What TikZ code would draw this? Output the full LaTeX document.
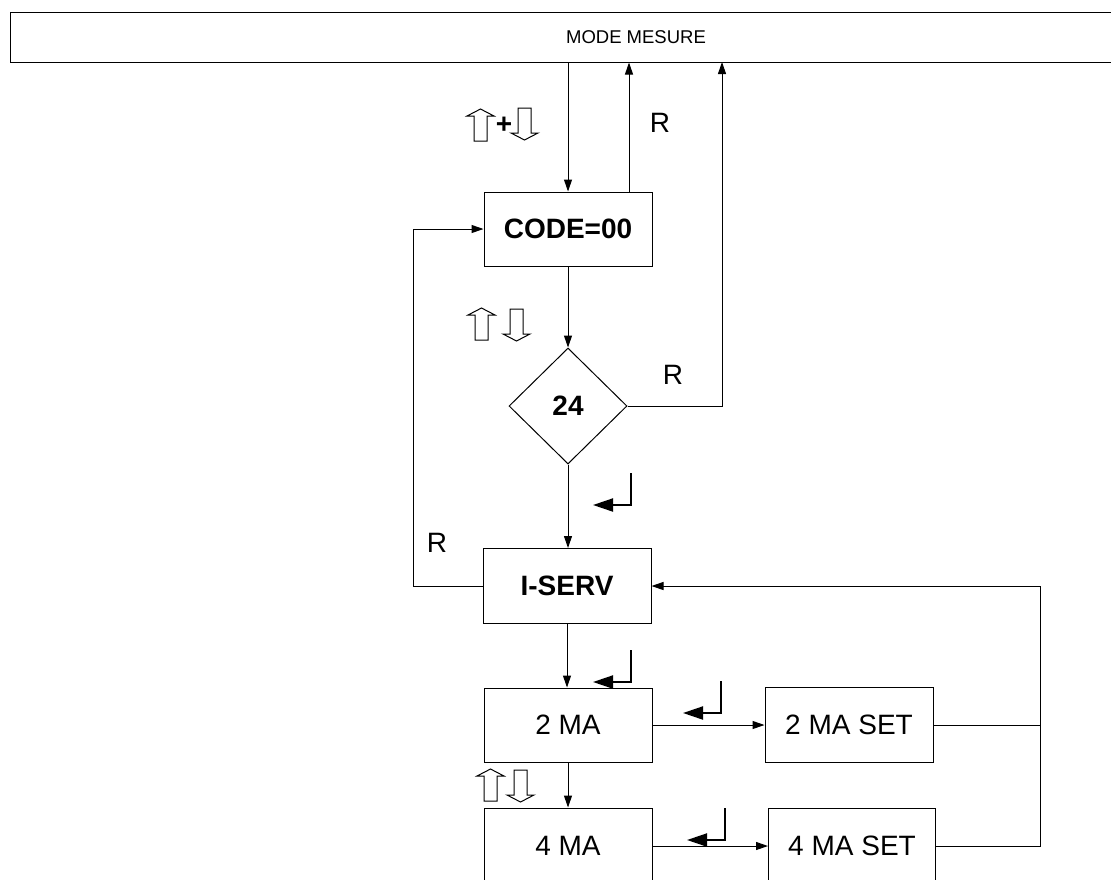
\documentclass[tikz,border=0pt]{standalone}
\usepackage{fontspec}
\setmainfont{Liberation Sans}
\usetikzlibrary{arrows.meta, shapes.geometric, calc}
\tikzset{
  every picture/.style={line width=1pt},
  box/.style={draw, minimum width=168pt, minimum height=74pt, inner sep=0pt, font=\fontsize{28}{32}\selectfont},
  boldbox/.style={box, font=\fontsize{28}{32}\selectfont\bfseries},
  decision/.style={draw, diamond, aspect=1, minimum width=118pt, minimum height=116pt, inner sep=0pt, font=\fontsize{28}{32}\selectfont\bfseries},
  rlabel/.style={inner sep=0pt, font=\fontsize{28}{32}\selectfont},
  arrow/.style={-{Triangle[length=12pt, width=8pt]}},
  upkey/.pic={\draw (7,32) -- (20,32) -- (20,7) -- (27,7) -- (13.5,0) -- (0,7) -- (7,7) -- cycle;},
  downkey/.pic={\draw (7,0) -- (20,0) -- (20,25) -- (27,25) -- (13.5,32) -- (0,25) -- (7,25) -- cycle;},
  enterkey/.pic={\draw[line width=2pt, -{Triangle[length=20pt, width=13pt]}] (0,0) -- (0,32) -- (-38,32);},
}

\begin{document}
\begin{tikzpicture}[x=1pt, y=-1pt]
  \path[use as bounding box, clip] (0,0) rectangle (1111,879);
  \node[draw, minimum width=1252pt, minimum height=50pt, inner sep=0pt, font=\fontsize{18.5}{22}\selectfont] (mesure) at (636,37) {MODE MESURE};
  \node[boldbox] (code) at (568,229) {CODE=00};
  \node[decision] (test) at (568,406) {24};
  \node[boldbox, minimum height=75pt] (iserv) at (567,586) {I-SERV};
  \node[box] (ma2) at (568,725) {2 MA};
  \node[box, minimum height=75pt] (ma2set) at (849,725) {2 MA SET};
  \node[box, minimum height=76pt] (ma4) at (568,846) {4 MA};
  \node[box, minimum width=167pt, minimum height=76pt] (ma4set) at (852,846) {4 MA SET};

  \coordinate (back) at (722,62);
  \coordinate (lft) at (413,586);
  \coordinate (bus) at (1040,586);

  \draw[arrow] (mesure.south -| code.north) -- (code.north);
  \draw[arrow] ([xshift=61pt]code.north) -- ([xshift=61pt]code.north |- mesure.south);
  \draw[arrow] (code.south) -- (test.north);
  \draw[arrow] (test.east) -| (back);
  \draw[arrow] (test.south) -- (test.south |- iserv.north);
  \draw[arrow] (iserv.west) -- (lft) |- (code.west);
  \draw[arrow] (iserv.south) -- (iserv.south |- ma2.north);
  \draw[arrow] (ma2.east) -- (ma2set.west);
  \draw[arrow] (ma2.south) -- (ma4.north);
  \draw[arrow] (ma4.east) -- (ma4set.west);
  \draw (ma2set.east) -- (ma2set.east -| bus);
  \draw[arrow] (ma4set.east) -- (ma4set.east -| bus) -- (bus) -- (iserv.east);

  \node[rlabel] (rcode) at (660,123) {R};
  \node[rlabel] (rtest) at (673,375) {R};
  \node[rlabel] (riserv) at (437,543) {R};

  \pic at (467,109) {upkey};
  \node[rlabel, font=\fontsize{28}{32}\selectfont\bfseries] (plus) at (504,125) {+};
  \pic at (511,108) {downkey};
  \pic at (468,308) {upkey};
  \pic at (503,309) {downkey};
  \pic at (477,769) {upkey};
  \pic at (507,770) {downkey};

  \pic at (631,473) {enterkey};
  \pic at (631,650) {enterkey};
  \pic at (721,681) {enterkey};
  \pic at (725,808) {enterkey};
\end{tikzpicture}
\end{document}
